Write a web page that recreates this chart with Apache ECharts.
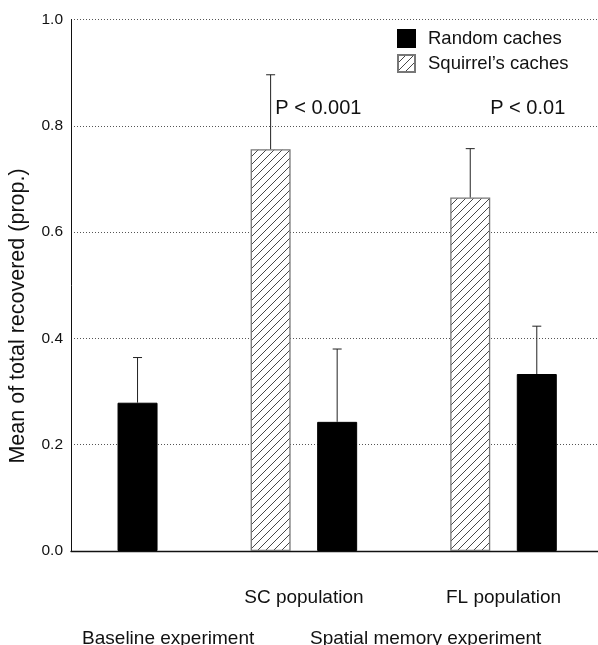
<!DOCTYPE html>
<html>
<head>
<meta charset="utf-8">
<script src="https://cdn.jsdelivr.net/npm/echarts@6/dist/echarts.min.js"></script>
<style>html,body{margin:0;padding:0;background:#fff;}#c{width:598px;height:645px;}</style>
</head>
<body>
<div id="c"></div>
<script>
// ---- data ----
const seriesNames = ['Random caches', "Squirrel’s caches"];
const randomX = [1, 4, 7];
const randomMean = [0.279, 0.243, 0.333];
const randomUpper = [0.364, 0.380, 0.423];
const squirrelX = [3, 6];
const squirrelMean = [0.756, 0.665];
const squirrelUpper = [0.896, 0.757];
const yTicks = [0, 0.2, 0.4, 0.6, 0.8, 1.0];
const populationLabels = ['SC population', 'FL population'];
const populationPos = [3.5, 6.5];
const experimentLabels = ['Baseline experiment', 'Spatial memory experiment'];
const experimentPos = [1.46, 5.33];
const pLabels = ['P < 0.001', 'P < 0.01'];
const yTitle = 'Mean of total recovered (prop.)';

const FONT = '"Liberation Sans", Arial, sans-serif';

// hatch pattern
function hatch() {
  const s = 8;
  const c = document.createElement('canvas');
  c.width = s; c.height = s;
  const g = c.getContext('2d');
  g.fillStyle = '#fff'; g.fillRect(0, 0, s, s);
  g.strokeStyle = '#333'; g.lineWidth = 0.9;
  g.beginPath();
  g.moveTo(-1, s + 1); g.lineTo(s + 1, -1);
  g.moveTo(-1, 1); g.lineTo(1, -1);
  g.moveTo(s - 1, s + 1); g.lineTo(s + 1, s - 1);
  g.stroke();
  return c;
}

const chart = echarts.init(document.getElementById('c'), null, {renderer: 'canvas'});

const randomData = randomX.map((x, i) => [x, randomMean[i]]);
const squirrelData = squirrelX.map((x, i) => [x, squirrelMean[i]]);
const errData = randomX.map((x, i) => [x, randomMean[i], randomUpper[i]])
  .concat(squirrelX.map((x, i) => [x, squirrelMean[i], squirrelUpper[i]]));

const option = {
  animation: false,
  backgroundColor: '#fff',
  textStyle: {fontFamily: FONT},
  grid: {left: 71, top: 19.5, right: 0, bottom: 94, containLabel: false},
  legend: {
    orient: 'vertical', left: 392, top: 24,
    itemWidth: 17, itemHeight: 17, itemGap: 6, icon: 'rect',
    data: seriesNames,
    textStyle: {fontSize: 18.5, color: '#111', fontFamily: FONT, padding: [0, 0, 0, 8]}
  },
  xAxis: {
    type: 'value', min: 0, max: 7.92,
    axisLine: {show: true, onZero: false, lineStyle: {color: '#111', width: 1.3}},
    axisTick: {show: false}, axisLabel: {show: false}, splitLine: {show: false}
  },
  yAxis: {
    type: 'value', min: yTicks[0], max: yTicks[yTicks.length - 1], interval: 0.2,
    axisLine: {show: true, lineStyle: {color: '#111', width: 1}},
    axisTick: {show: false},
    axisLabel: {fontSize: 15.5, color: '#111', margin: 8, fontFamily: FONT, formatter: v => v.toFixed(1)},
    splitLine: {show: true, lineStyle: {color: '#555', width: 1, type: [1, 2]}}
  },
  series: [
    {
      name: seriesNames[0], type: 'bar', data: randomData, barWidth: 40, barGap: '-100%',
      itemStyle: {color: '#000', borderColor: '#000', borderWidth: 1}, z: 3
    },
    {
      name: seriesNames[1], type: 'bar', data: squirrelData, barWidth: 40, barGap: '-100%',
      itemStyle: {color: {image: hatch(), repeat: 'repeat'}, borderColor: '#777', borderWidth: 1.3}, z: 3
    },
    {
      type: 'custom', data: errData, z: 4, silent: true,
      encode: {x: 0, y: [1, 2]},
      renderItem: function (params, api) {
        const x = api.value(0);
        const p0 = api.coord([x, api.value(1)]);
        const p1 = api.coord([x, api.value(2)]);
        const st = {stroke: '#222', lineWidth: 1};
        return {type: 'group', children: [
          {type: 'line', shape: {x1: p0[0], y1: p0[1], x2: p1[0], y2: p1[1]}, style: st},
          {type: 'line', shape: {x1: p1[0] - 4.5, y1: p1[1], x2: p1[0] + 4.5, y2: p1[1]}, style: st}
        ]};
      }
    }
  ]
};
chart.setOption(option);

// annotations and group labels positioned through the axes
const texts = [];
const baseY = chart.convertToPixel({yAxisIndex: 0}, 0);
populationLabels.forEach((t, i) => {
  texts.push({type: 'text', x: chart.convertToPixel({xAxisIndex: 0}, populationPos[i]), y: baseY + 47,
    style: {text: t, font: '19px ' + FONT, fill: '#111', align: 'center', verticalAlign: 'middle'}});
});
experimentLabels.forEach((t, i) => {
  texts.push({type: 'text', x: chart.convertToPixel({xAxisIndex: 0}, experimentPos[i]), y: baseY + 87.5,
    style: {text: t, font: '19px ' + FONT, fill: '#111', align: 'center', verticalAlign: 'middle'}});
});
const pAnchors = [squirrelX[0] + 0.07, squirrelX[1] + 0.3];
pLabels.forEach((t, i) => {
  texts.push({type: 'text', x: chart.convertToPixel({xAxisIndex: 0}, pAnchors[i]), y: 108,
    style: {text: t, font: '20px ' + FONT, fill: '#111', align: 'left', verticalAlign: 'middle'}});
});
texts.push({type: 'text', x: 18, y: 316, rotation: Math.PI / 2,
  style: {text: yTitle, font: '21.5px ' + FONT, fill: '#111', align: 'center', verticalAlign: 'middle'}});
chart.setOption({graphic: texts});
</script>
</body>
</html>
